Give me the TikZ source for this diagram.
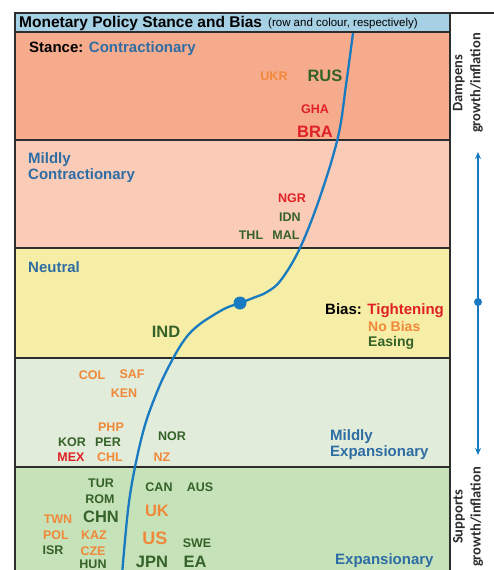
\documentclass[tikz,border=0pt]{standalone}
\usepackage{fontspec}
\setmainfont{Liberation Sans}
\newfontfamily\sidefont{Carlito}
\usetikzlibrary{arrows.meta}
\definecolor{frame}{RGB}{45,45,45}
\definecolor{titlebar}{RGB}{166,208,228}
\definecolor{contr}{RGB}{246,172,140}
\definecolor{mcontr}{RGB}{250,204,184}
\definecolor{neutral}{RGB}{246,238,166}
\definecolor{mexp}{RGB}{226,236,218}
\definecolor{expan}{RGB}{198,226,184}
\definecolor{stanceblue}{RGB}{46,109,164}
\definecolor{tight}{RGB}{224,32,36}
\definecolor{nobias}{RGB}{240,136,58}
\definecolor{easing}{RGB}{52,98,40}
\definecolor{curveblue}{RGB}{24,122,192}

\begin{document}
\begin{tikzpicture}[x=1pt,y=-1pt,
  band/.style={draw=frame,line width=1.1pt},
  stance/.style={font=\bfseries\fontsize{15}{16}\selectfont,text=stanceblue,
    inner sep=0,anchor=west,align=left},
  cty/.style={font=\bfseries\fontsize{12.5}{14}\selectfont,inner sep=0},
  big/.style={font=\bfseries\fontsize{16.5}{18}\selectfont},
  side/.style={font=\sidefont\bfseries\fontsize{14.5}{18}\selectfont,text=frame,
    rotate=90,align=center,inner sep=0},
  curve/.style={curveblue,line width=2.3pt},
  arr/.style={{Stealth[length=7pt,width=6pt]}-{Stealth[length=7pt,width=6pt]},
    curveblue,line width=1.8pt},
]
  \useasboundingbox (0,0) rectangle (494,570);
  \clip (0,0) rectangle (494,570);

  % rows: stance bands
  \filldraw[band,fill=titlebar] (15,13) rectangle (450,32);
  \foreach \ytop/\ybot/\col in {32/140/contr,140/248/mcontr,248/358/neutral,
      358/467/mexp,467/580/expan}
    \filldraw[band,fill=\col] (15,\ytop) rectangle (450,\ybot);
  \draw[band] (450,13) -- (494,13);

  % title
  \node[anchor=west,inner sep=0,font=\bfseries\fontsize{15.5}{16}\selectfont] (title)
    at (19,23) {Monetary Policy Stance and Bias};
  \node[anchor=west,inner sep=0,font=\fontsize{11.5}{13}\selectfont] (note)
    at (268,24) {(row and colour, respectively)};

  % stance labels
  \node[stance] (scon) at (29,49) {\textcolor{black}{Stance:} Contractionary};
  \node[stance] (smcon) at (28,168) {Mildly\\Contractionary};
  \node[stance] (sneu) at (28,267) {Neutral};
  \node[stance] (smexp) at (330,444.5) {Mildly\\Expansionary};
  \node[stance] (sexp) at (335,561) {Expansionary};

  % bias legend
  \node[anchor=west,inner sep=0,font=\bfseries\fontsize{15}{16}\selectfont] (bias)
    at (325,311) {Bias: \textcolor{tight}{Tightening}};
  \node[anchor=west,inner sep=0,font=\bfseries\fontsize{14}{15}\selectfont,text=nobias]
    (nob) at (368,326.5) {No Bias};
  \node[anchor=west,inner sep=0,font=\bfseries\fontsize{14}{15}\selectfont,text=easing]
    (eas) at (368,342.5) {Easing};

  % the stance curve
  \draw[curve] plot[smooth,tension=0.6] coordinates {(353,33) (346,85) (338,137)
    (320,197) (300,248) (281,280) (267,292) (253,298) (240,303) (226,308)
    (212,316) (200,324) (189,334) (179,348) (167,370) (157,392) (145,425)
    (135,467) (128,510) (122,575)};
  \node[circle,fill=curveblue,minimum size=13pt,inner sep=0] (kink) at (240,303) {};

  % countries
  \foreach \n/\x/\y in {UKR/274/76,SAF/132/374,COL/92/375,KEN/124/393,PHP/111/427,
      CHL/110/457,NZ/162/457,TWN/58/519,POL/56/535,KAZ/94/535,CZE/93/551}
    \node[cty,text=nobias] (\n) at (\x,\y) {\n};
  \foreach \n/\x/\y in {GHA/315/109,NGR/292/198,MEX/71/457}
    \node[cty,text=tight] (\n) at (\x,\y) {\n};
  \foreach \n/\x/\y in {IDN/290/217,THL/251/235,MAL/286/235,KOR/72/442,PER/108/442,
      NOR/172/436,TUR/101/483,ROM/100/499,ISR/53/550,HUN/93/564,CAN/159/487,
      AUS/200/487,SWE/197/543}
    \node[cty,text=easing] (\n) at (\x,\y) {\n};
  \node[cty,big,text=easing] (RUS) at (325,76) {RUS};
  \node[cty,big,text=tight] (BRA) at (315,132) {BRA};
  \node[cty,big,text=easing] (IND) at (166,332) {IND};
  \node[cty,big,text=easing] (CHN) at (101,517) {CHN};
  \node[cty,big,text=nobias] (UK) at (157,511) {UK};
  \node[cty,big,text=nobias,font=\bfseries\fontsize{18}{20}\selectfont] (US) at (155,538) {US};
  \node[cty,big,text=easing] (JPN) at (152,562) {JPN};
  \node[cty,big,text=easing] (EA) at (195,562) {EA};

  % effect scale on the right
  \node[side] (damp) at (468,83) {Dampens\\growth/inflation};
  \node[side] (supp) at (468,517) {Supports\\growth/inflation};
  \coordinate (up) at (478,152);
  \coordinate (dn) at (478,455);
  \draw[arr] (up) -- (dn);
  \node[circle,fill=curveblue,minimum size=8pt,inner sep=0] (mid) at (478,302) {};
\end{tikzpicture}
\end{document}
